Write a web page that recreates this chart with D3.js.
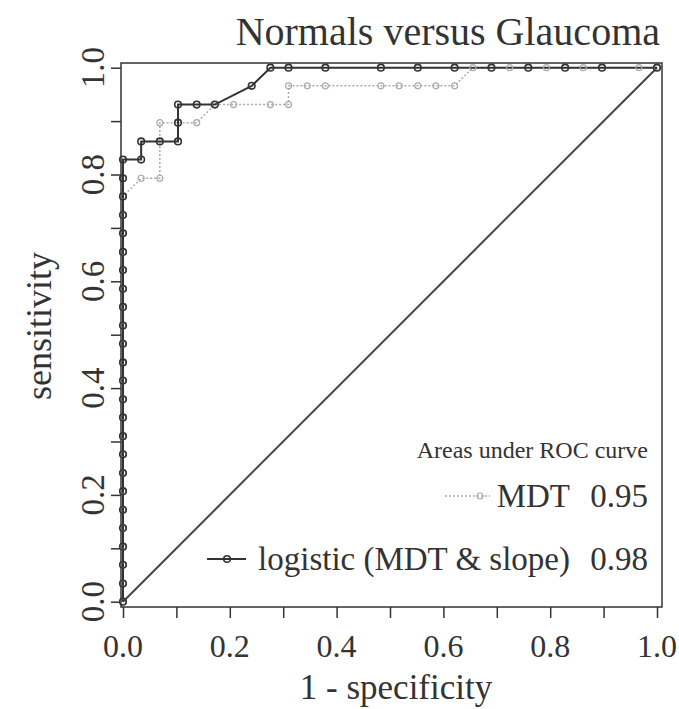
<!DOCTYPE html>
<html>
<head>
<meta charset="utf-8">
<script src="https://cdn.jsdelivr.net/npm/d3@7"></script>
<style>
  body { margin: 0; background: #fff; }
  text { font-family: "Liberation Serif", "Times New Roman", serif; fill: #333; }
</style>
</head>
<body>
<div id="container"></div>
<script>
/* CONSTANTS AND GLOBALS */
const width = 679,
  height = 709;

// tick values and labels
const tickValues = [0, 0.1, 0.2, 0.3, 0.4, 0.5, 0.6, 0.7, 0.8, 0.9, 1.0];
const tickLabels = ["0.0", "", "0.2", "", "0.4", "", "0.6", "", "0.8", "", "1.0"];

// logistic (MDT & slope) ROC points
const logisticFpr = [0, 0, 0, 0, 0, 0, 0, 0, 0, 0, 0, 0, 0, 0, 0, 0, 0, 0, 0, 0, 0, 0, 0, 0, 0,
  0.034, 0.034, 0.069, 0.103, 0.103, 0.103, 0.138, 0.172, 0.241, 0.276, 0.310, 0.379, 0.483,
  0.552, 0.621, 0.690, 0.759, 0.828, 0.897, 1.000];
const logisticTpr = [0, 0.034, 0.069, 0.103, 0.138, 0.172, 0.207, 0.241, 0.276, 0.310, 0.345,
  0.379, 0.414, 0.448, 0.483, 0.517, 0.552, 0.586, 0.621, 0.655, 0.690, 0.724, 0.759, 0.793, 0.828,
  0.828, 0.862, 0.862, 0.862, 0.897, 0.931, 0.931, 0.931, 0.966, 1, 1, 1, 1, 1, 1, 1, 1, 1, 1, 1];

// MDT ROC points
const mdtFpr = [0, 0, 0, 0, 0, 0, 0, 0, 0, 0, 0, 0, 0, 0, 0, 0, 0, 0, 0, 0, 0, 0, 0,
  0.034, 0.069, 0.069, 0.138, 0.172, 0.207, 0.276, 0.310, 0.310, 0.345, 0.379, 0.483, 0.517,
  0.552, 0.586, 0.621, 0.655, 0.724, 0.793, 0.862, 0.966, 1.000];
const mdtTpr = [0, 0.034, 0.069, 0.103, 0.138, 0.172, 0.207, 0.241, 0.276, 0.310, 0.345,
  0.379, 0.414, 0.448, 0.483, 0.517, 0.552, 0.586, 0.621, 0.655, 0.690, 0.724, 0.759,
  0.793, 0.793, 0.897, 0.897, 0.931, 0.931, 0.931, 0.931, 0.966, 0.966, 0.966, 0.966, 0.966,
  0.966, 0.966, 0.966, 1, 1, 1, 1, 1, 1];

const legendTitle = "Areas under ROC curve";
const seriesNames = ["MDT", "logistic (MDT & slope)"];
const seriesAuc = ["0.95", "0.98"];

const logistic = logisticFpr.map((x, i) => ({ x: x, y: logisticTpr[i] }));
const mdt = mdtFpr.map((x, i) => ({ x: x, y: mdtTpr[i] }));

/* SCALES */
const xScale = d3.scaleLinear().domain([0, 1]).range([123, 657]);
const yScale = d3.scaleLinear().domain([0, 1]).range([601.7, 67.7]);

const svg = d3.select("#container")
  .append("svg")
  .attr("width", width)
  .attr("height", height);

// plot box
const box = { left: 121, right: 662, top: 63, bottom: 607 };
svg.append("rect")
  .attr("x", box.left)
  .attr("y", box.top)
  .attr("width", box.right - box.left)
  .attr("height", box.bottom - box.top)
  .attr("fill", "none")
  .attr("stroke", "#333")
  .attr("stroke-width", 1.5);

// + AXES (ticks only, labels drawn below)
const xAxis = d3.axisBottom(xScale).tickValues(tickValues).tickSize(11).tickSizeOuter(0).tickFormat("");
const yAxis = d3.axisLeft(yScale).tickValues(tickValues).tickSize(10).tickSizeOuter(0).tickFormat("");

svg.append("g")
  .attr("transform", `translate(0, ${box.bottom})`)
  .call(xAxis)
  .call(g => g.select(".domain").remove())
  .call(g => g.selectAll("line").attr("stroke", "#333").attr("stroke-width", 1.5));

svg.append("g")
  .attr("transform", `translate(${box.left}, 0)`)
  .call(yAxis)
  .call(g => g.select(".domain").remove())
  .call(g => g.selectAll("line").attr("stroke", "#333").attr("stroke-width", 1.5));

svg.selectAll(".xlab")
  .data(tickValues)
  .join("text")
  .attr("class", "xlab")
  .attr("x", d => xScale(d))
  .attr("y", 657)
  .attr("text-anchor", "middle")
  .attr("font-size", 32)
  .text((d, i) => tickLabels[i]);

svg.selectAll(".ylab")
  .data(tickValues)
  .join("text")
  .attr("class", "ylab")
  .attr("transform", d => `translate(104, ${yScale(d)}) rotate(-90)`)
  .attr("text-anchor", "middle")
  .attr("font-size", 33)
  .text((d, i) => tickLabels[i]);

// axis titles and title
svg.append("text")
  .attr("x", 396)
  .attr("y", 699)
  .attr("text-anchor", "middle")
  .attr("font-size", 35)
  .text("1 - specificity");

svg.append("text")
  .attr("transform", `translate(51, 326) rotate(-90)`)
  .attr("text-anchor", "middle")
  .attr("font-size", 36)
  .text("sensitivity");

svg.append("text")
  .attr("x", 660)
  .attr("y", 45)
  .attr("text-anchor", "end")
  .attr("font-size", 40)
  .text("Normals versus Glaucoma");

// diagonal reference
svg.append("line")
  .attr("x1", xScale(0)).attr("y1", yScale(0))
  .attr("x2", xScale(1)).attr("y2", yScale(1))
  .attr("stroke", "#444")
  .attr("stroke-width", 2);

/* LINES */
const lineGenerator = d3.line()
  .x(d => xScale(d.x))
  .y(d => yScale(d.y));

svg.append("path")
  .datum(mdt)
  .attr("fill", "none")
  .attr("stroke", "#aaa")
  .attr("stroke-width", 1.5)
  .attr("stroke-dasharray", "2,2")
  .attr("d", lineGenerator);

svg.append("path")
  .datum(logistic)
  .attr("fill", "none")
  .attr("stroke", "#333")
  .attr("stroke-width", 2)
  .attr("d", lineGenerator);

svg.selectAll(".dot-mdt")
  .data(mdt)
  .join("circle")
  .attr("class", "dot-mdt")
  .attr("cx", d => xScale(d.x))
  .attr("cy", d => yScale(d.y))
  .attr("r", 3)
  .attr("fill", "none")
  .attr("stroke", "#aaa")
  .attr("stroke-width", 1.2);

svg.selectAll(".dot-log")
  .data(logistic)
  .join("circle")
  .attr("class", "dot-log")
  .attr("cx", d => xScale(d.x))
  .attr("cy", d => yScale(d.y))
  .attr("r", 3.3)
  .attr("fill", "none")
  .attr("stroke", "#333")
  .attr("stroke-width", 1.6);

/* LEGEND */
svg.append("text")
  .attr("x", 648)
  .attr("y", 458)
  .attr("text-anchor", "end")
  .attr("font-size", 24)
  .text(legendTitle);

const rowY = [507, 570];
seriesNames.forEach((name, i) => {
  svg.append("text")
    .attr("x", 570).attr("y", rowY[i])
    .attr("text-anchor", "end")
    .attr("font-size", 33)
    .text(name);
  svg.append("text")
    .attr("x", 648).attr("y", rowY[i])
    .attr("text-anchor", "end")
    .attr("font-size", 33)
    .text(seriesAuc[i]);
});

// legend samples
const mdtSampleX = 570 - 80;
svg.append("line")
  .attr("x1", mdtSampleX - 45).attr("x2", mdtSampleX)
  .attr("y1", rowY[0] - 11).attr("y2", rowY[0] - 11)
  .attr("stroke", "#aaa").attr("stroke-width", 1.5).attr("stroke-dasharray", "2,2");
svg.append("circle")
  .attr("cx", mdtSampleX - 10).attr("cy", rowY[0] - 11).attr("r", 3)
  .attr("fill", "none").attr("stroke", "#aaa").attr("stroke-width", 1.2);

const logSampleX = 246;
svg.append("line")
  .attr("x1", logSampleX - 39).attr("x2", logSampleX)
  .attr("y1", rowY[1] - 11).attr("y2", rowY[1] - 11)
  .attr("stroke", "#333").attr("stroke-width", 2);
svg.append("circle")
  .attr("cx", logSampleX - 19).attr("cy", rowY[1] - 11).attr("r", 3.3)
  .attr("fill", "none").attr("stroke", "#333").attr("stroke-width", 1.6);
</script>
</body>
</html>
